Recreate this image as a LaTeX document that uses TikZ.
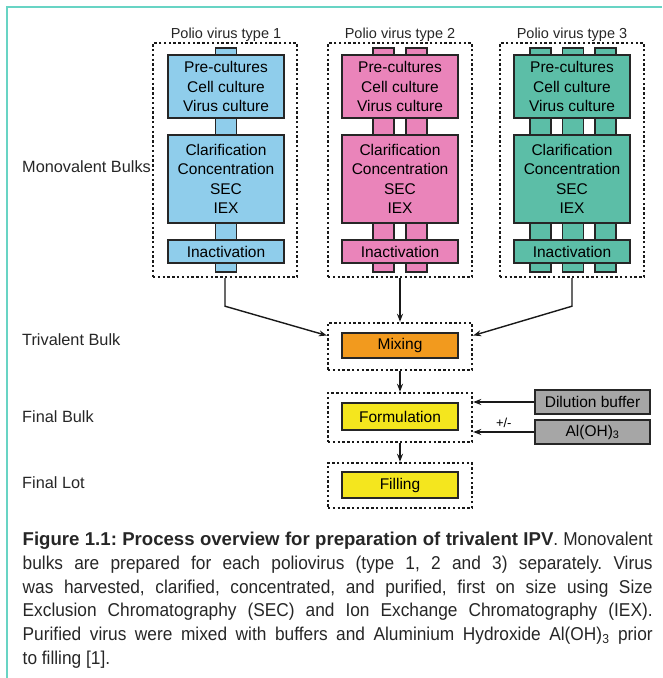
\documentclass[tikz,border=0pt]{standalone}
\usepackage{fontspec}
\setmainfont{Liberation Sans}
\newfontfamily\capfont[FakeStretch=0.93, BoldFeatures={FakeStretch=1.0}]{Liberation Sans}
\usetikzlibrary{arrows.meta, positioning}
\frenchspacing

\definecolor{bluebox}{RGB}{143,205,235}
\definecolor{pinkbox}{RGB}{234,132,186}
\definecolor{tealbox}{RGB}{92,190,167}
\definecolor{mixorange}{RGB}{242,154,30}
\definecolor{formyellow}{RGB}{244,230,30}
\definecolor{buffergray}{RGB}{166,166,166}
\definecolor{tealline}{RGB}{104,212,196}

\begin{document}
\begin{tikzpicture}[x=1pt, y=-1pt, >={Stealth[length=8pt, width=6pt]},
		stage/.style={rectangle, draw=black!85, line width=1.3pt, minimum width=116pt, inner sep=0pt, align=center, font=\fontsize{15.5}{19.5}\selectfont},
		frame/.style={rectangle, draw=black!90, line width=2.4pt, dash pattern=on 2.4pt off 2.4pt, minimum width=144pt},
		tab/.style={draw=black!85, line width=1.3pt},
		side/.style={anchor=west, inner sep=0pt, text=black!85, font=\fontsize{16.3}{18}\selectfont},
		virus/.style={anchor=base, inner sep=0pt, text=black!85, font=\fontsize{14.5}{17}\selectfont},
		flow/.style={->, line width=1.4pt, draw=black!90}]
	\useasboundingbox (0,0) rectangle (662,678);
	
	% page rule
	\draw[tealline, line width=2pt] (7,6.5) -- (662,6.5);
	\draw[tealline, line width=2pt] (7,6) -- (7,678);
	
	% connecting tabs behind the stages
	\draw[tab, fill=bluebox] (215.5,48) rectangle (236.5,272);
	\draw[tab, fill=pinkbox] (373,48) rectangle (394,272);
	\draw[tab, fill=pinkbox] (406,48) rectangle (427,272);
	\draw[tab, fill=tealbox] (530,48) rectangle (551,272);
	\draw[tab, fill=tealbox] (562.5,48) rectangle (583.5,272);
	\draw[tab, fill=tealbox] (595,48) rectangle (616,272);
	
	% monovalent bulks
	\node[frame, minimum height=234pt] (mono1) at (225,160) {};
	\node[frame, minimum height=234pt] (mono2) at (400,160) {};
	\node[frame, minimum height=234pt] (mono3) at (572,160) {};
	\node[virus] (type1) at (226,38) {Polio virus type 1};
	\node[virus] (type2) at (400,38) {Polio virus type 2};
	\node[virus] (type3) at (572,38) {Polio virus type 3};
	
	\node[stage, fill=bluebox, minimum height=63pt] (culture1) at (226,86.5) {Pre-cultures\\Cell culture\\Virus culture};
	\node[stage, fill=bluebox, minimum height=88pt] (purify1) at (226,179) {Clarification\\Concentration\\SEC\\IEX};
	\node[stage, fill=bluebox, minimum height=23pt] (inact1) at (226,251.5) {Inactivation};
	\node[stage, fill=pinkbox, minimum height=63pt] (culture2) at (400,86.5) {Pre-cultures\\Cell culture\\Virus culture};
	\node[stage, fill=pinkbox, minimum height=88pt] (purify2) at (400,179) {Clarification\\Concentration\\SEC\\IEX};
	\node[stage, fill=pinkbox, minimum height=23pt] (inact2) at (400,251.5) {Inactivation};
	\node[stage, fill=tealbox, minimum height=63pt] (culture3) at (572,86.5) {Pre-cultures\\Cell culture\\Virus culture};
	\node[stage, fill=tealbox, minimum height=88pt] (purify3) at (572,179) {Clarification\\Concentration\\SEC\\IEX};
	\node[stage, fill=tealbox, minimum height=23pt] (inact3) at (572,251.5) {Inactivation};
	
	% trivalent, final bulk and final lot
	\node[frame, minimum height=47pt] (trif) at (400,346.5) {};
	\node[stage, fill=mixorange, minimum height=25pt] (mixing) at (400,345.5) {Mixing};
	\node[frame, minimum height=49pt] (bulkf) at (400,417.5) {};
	\node[stage, fill=formyellow, minimum height=27pt] (formulation) at (400,416.5) {Formulation};
	\node[frame, minimum height=45pt] (lotf) at (400,485.5) {};
	\node[stage, fill=formyellow, minimum height=26pt] (filling) at (400,485) {Filling};
	\node[stage, fill=buffergray, minimum width=115pt, minimum height=24pt] (dilution) at (592.5,402) {Dilution buffer};
	\node[stage, fill=buffergray, minimum width=115pt, minimum height=24pt] (aloh) at (592.5,432) {Al(OH)\textsubscript{3}};
	
	\node[side] (monolabel) at (22,167) {Monovalent Bulks};
	\node[side] (trilabel) at (22,340) {Trivalent Bulk};
	\node[side] (bulklabel) at (22,417) {Final Bulk};
	\node[side] (lotlabel) at (22,483) {Final Lot};
	
	\draw[flow] (mono1.south) -- ++(0,28) -- ([yshift=11pt]trif.west);
	\draw[flow] (mono2.south) -- (trif.north);
	\draw[flow] (mono3.south) -- ++(0,28) -- ([yshift=11pt]trif.east);
	\draw[flow] (trif.south) -- (bulkf.north);
	\draw[flow] (bulkf.south) -- (lotf.north);
	\draw[flow] (dilution.west) -- (dilution.west -| bulkf.east);
	\draw[flow] (aloh.west) -- node[above, font=\fontsize{13}{15}\selectfont] {+/-} (aloh.west -| bulkf.east);
	
	\node[anchor=north west, inner sep=0pt, text width=630pt, align=justify, text=black!85, font=\capfont\fontsize{18.6}{23.7}\selectfont] (caption) at (22.5,532) {\textbf{Figure 1.1: Process overview for preparation of trivalent IPV}. Monovalent\linebreak bulks are prepared for each poliovirus (type 1, 2 and 3) separately. Virus\linebreak was harvested, clarified, concentrated, and purified, first on size using Size\linebreak Exclusion Chromatography (SEC) and Ion Exchange Chromatography (IEX).\linebreak Purified virus were mixed with buffers and Aluminium Hydroxide Al(OH)\textsubscript{3} prior\linebreak to filling [1].};
\end{tikzpicture}
\end{document}
